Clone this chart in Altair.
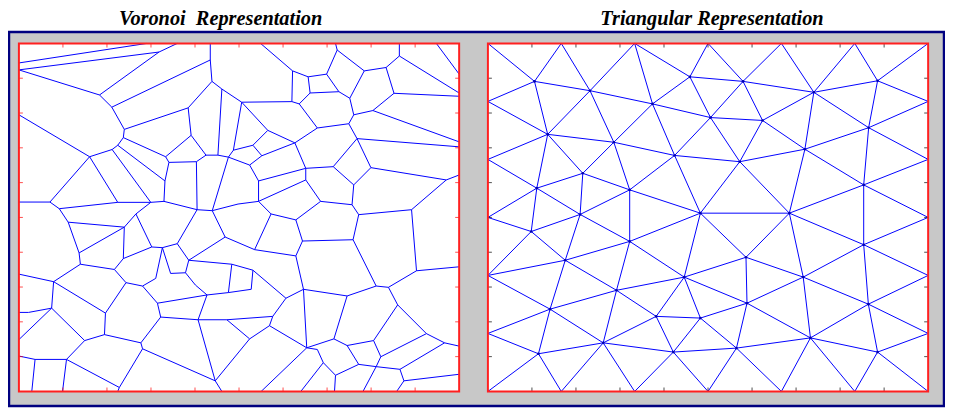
import altair as alt
import pandas as pd

# Panel coordinate space (both panels): x 0..444 left->right, y 0..351 top->bottom
PW, PH = 444, 351

x_ticks = [44.4, 88.8, 133.2, 177.6, 222.0, 266.4, 310.8, 355.2, 399.6]
y_ticks = [35.1, 70.2, 105.3, 140.4, 175.5, 210.6, 245.7, 280.8, 315.9]

titles = ["Voronoi\u00a0 Representation", "Triangular Representation"]

# ---------------- Triangular representation ----------------
tri_nodes = {
    "B0": (0, 0), "B1": (74, 0), "B2": (148, 0), "B3": (222, 0), "B4": (296, 0), "B5": (370, 0), "B6": (444, 0),
    "L1": (0, 58.5), "L2": (0, 117), "L3": (0, 175.5), "L4": (0, 234), "L5": (0, 292.5), "BL": (0, 351),
    "R1": (444, 58.5), "R2": (444, 117), "R3": (444, 175.5), "R4": (444, 234), "R5": (444, 292.5), "BR": (444, 351),
    "D1": (74, 351), "D2": (148, 351), "D3": (222, 351), "D4": (296, 351), "D5": (370, 351),
    "N1": (47, 38.3), "N2": (103, 47.7), "N3": (203.7, 33.7), "N4": (166, 61), "N5": (224.5, 74.8),
    "N6": (60.3, 91.7), "N7": (127, 99.7), "N8": (188.3, 113), "N9": (95.7, 131), "N10": (49.3, 146),
    "N11": (143, 147.7), "N12": (93, 172.5), "N13": (214.3, 171.2), "N14": (257.3, 38.3), "N15": (328.7, 49.3),
    "N16": (393, 37.7), "N17": (277, 77.7), "N18": (384, 85), "N19": (319.7, 106.7), "N20": (254, 119.3),
    "N21": (379, 142.7), "N22": (304, 171.2), "N23": (43.7, 189.7), "N24": (143, 199.7), "N25": (78, 218.7),
    "N26": (198, 235.7), "N27": (129.7, 249), "N28": (62.7, 268), "N29": (169.7, 275.3), "N30": (214.3, 277),
    "N31": (116.3, 302), "N32": (51, 313), "N33": (187, 311.3), "N34": (379, 203), "N35": (260.3, 215.7),
    "N36": (318, 235.7), "N37": (261.3, 262), "N38": (383.7, 263), "N39": (325.3, 297), "N40": (250.7, 307.3),
    "N41": (393, 311.3),
}

tri_edges = [
    ("B0", "N1"), ("B1", "N1"), ("B1", "N2"), ("B2", "N2"), ("B2", "N4"), ("B2", "N3"), ("B3", "N3"), ("B3", "N14"),
    ("N1", "N2"), ("N1", "L1"), ("N1", "N6"), ("N2", "N6"), ("N2", "N4"), ("N2", "N7"),
    ("N4", "N3"), ("N4", "N5"), ("N4", "N7"), ("N4", "N8"), ("N3", "N5"), ("N3", "N14"),
    ("L1", "N6"), ("N6", "L2"), ("N6", "N7"), ("N6", "N9"), ("N6", "N10"),
    ("N7", "N9"), ("N7", "N11"), ("N7", "N8"), ("N8", "N11"), ("N8", "N13"), ("N8", "N5"), ("N8", "N20"),
    ("L2", "N10"), ("N9", "N10"), ("N9", "N11"), ("N9", "N12"), ("N10", "N12"), ("N10", "L3"), ("N10", "N23"),
    ("N11", "N12"), ("N11", "N24"), ("N11", "N13"), ("N13", "N20"), ("N13", "N22"), ("N13", "N24"),
    ("N13", "N26"), ("N13", "N35"),
    ("L3", "N23"), ("N12", "N23"), ("N12", "N24"), ("N12", "N25"), ("N23", "N25"), ("N23", "L4"),
    ("N24", "N25"), ("N24", "N27"), ("N24", "N26"), ("N25", "L4"), ("N25", "N27"), ("N25", "N28"), ("L4", "N28"),
    ("N26", "N27"), ("N26", "N29"), ("N26", "N30"), ("N26", "N35"), ("N26", "N37"),
    ("N27", "N28"), ("N27", "N29"), ("N27", "N31"), ("N28", "N31"), ("N28", "L5"), ("N28", "N32"),
    ("N29", "N30"), ("N29", "N31"), ("N29", "N33"), ("N30", "N33"), ("N30", "N37"), ("N30", "N40"),
    ("N31", "N32"), ("N31", "N33"), ("N31", "D1"), ("N31", "D2"), ("N32", "L5"), ("N32", "BL"), ("N32", "D1"),
    ("N33", "D2"), ("N33", "D3"), ("N33", "N40"),
    ("B4", "N14"), ("B4", "N15"), ("B5", "N15"), ("B5", "N16"), ("B6", "N16"),
    ("N14", "N15"), ("N14", "N17"), ("N14", "N5"), ("N15", "N16"), ("N15", "N17"), ("N15", "N18"), ("N15", "N19"),
    ("N16", "R1"), ("N16", "N18"), ("N17", "N19"), ("N17", "N20"), ("N17", "N5"), ("N5", "N20"),
    ("N18", "R1"), ("N18", "R2"), ("N18", "N19"), ("N18", "N21"), ("N19", "N20"), ("N19", "N21"), ("N19", "N22"),
    ("N20", "N22"), ("N21", "R2"), ("N21", "R3"), ("N21", "N22"), ("N21", "N34"),
    ("N22", "N35"), ("N22", "N36"), ("N22", "N34"), ("R3", "N34"), ("N34", "R4"), ("N34", "N36"), ("N34", "N38"),
    ("N35", "N36"), ("N35", "N37"), ("N36", "N37"), ("N36", "N38"), ("N36", "N39"), ("N37", "N39"), ("N37", "N40"),
    ("N38", "R4"), ("N38", "R5"), ("N38", "N39"), ("N38", "N41"), ("N39", "N40"), ("N39", "N41"), ("N39", "D4"),
    ("N39", "D5"), ("N40", "D3"), ("N40", "D4"), ("N41", "R5"), ("N41", "D5"), ("N41", "BR"),
]

# ---------------- Voronoi representation ----------------
vor_vertices = {
    "A": (0, 19.7), "C": (129, 0), "B": (0, 26.7), "D": (141.3, 8.7), "E": (159.7, 0), "F": (81.3, 52),
    "G": (0, 72), "H": (93.7, 64.3), "I": (193, 0), "J": (193, 16.7), "K": (194.7, 38.3), "L": (106.3, 86.7),
    "M": (105.3, 95), "N": (170.7, 65), "O": (204.7, 46), "P": (224.7, 59.3), "Q": (173.7, 92.7),
    "R": (71.3, 114.3), "S": (94, 107), "S2": (99.7, 102.7), "T": (148, 114.3), "U": (151.3, 120),
    "V": (179, 119.3), "W": (188.7, 112.7), "X": (200.7, 112.7), "Y": (211.3, 114.7), "Z": (216.3, 107.7),
    "AA": (0, 160), "AB": (31.3, 160), "AC": (40.7, 166.7), "AD": (99.7, 160.3), "AE": (133, 160.3),
    "AF": (146.3, 159.3), "AG": (147.3, 138.7), "AH": (179.7, 167.7), "AJ": (195, 168.7),
    "a1": (49.7, 180.3), "a2": (106.3, 185.3), "a3": (60.7, 211.3), "a4": (62, 222.7), "a5": (96.3, 228),
    "a6": (105.3, 217), "a7": (35, 240.3), "a8": (134, 205.3), "a9": (144.7, 206), "a10": (159.7, 202),
    "a12": (138, 237), "a13": (153, 232), "a14": (168, 231.3), "a15": (171.3, 218.7), "a16": (208, 195.3),
    "a18": (214.7, 222.7), "a19": (178, 243.7), "a20": (189.7, 253.7), "a21": (211.3, 251.3),
    "a22": (108, 241.3), "a23": (124.7, 244.7), "a24": (139.7, 262), "a25": (143, 276), "a26": (180.7, 278.7),
    "a27": (209.7, 278.7), "a28": (87.3, 272), "a29": (86.3, 293.7), "a30": (123, 302), "a31": (33, 267),
    "a32": (66.3, 299.7), "a33": (48, 318.7), "a34": (16.3, 318.7), "a35": (0, 315.3), "a36": (13, 351),
    "a37": (44, 351), "a38": (101.3, 347), "a39": (99.7, 351), "a40": (124.7, 308), "a41": (198, 340.3),
    "a42": (204.7, 351), "a43": (0, 232.7), "a44": (9.7, 271.3), "a44L": (0, 271.3), "a45": (0, 298.7),
    "a50": (118, 172),
    "b1": (243.7, 0), "b2": (276, 27.7), "b3": (275.3, 58.7), "b4": (291.7, 33.7), "b5": (310.3, 31),
    "b6": (293.7, 50), "b7": (321, 6.7), "b7t": (319.3, 0), "b8": (348.3, 27.7), "b9": (322.7, 48.7),
    "b10": (282.7, 61), "b11": (333.7, 55.3), "b12": (370.3, 24.3), "b13": (383.7, 12.7), "b13t": (383.7, 0),
    "b14t": (421, 0), "rA": (444, 31), "rB": (444, 50), "rC": (444, 53.3), "b15": (378.3, 50.3),
    "b16": (337.7, 72), "b17": (357, 67.7), "rD": (444, 99.3), "b18": (332.7, 81), "b19": (301, 85.3),
    "b20": (278.3, 100.3), "b21": (341, 96), "rE": (444, 104.3), "b22": (355, 125.3), "b23": (431, 137.7),
    "rF": (444, 132.7), "b24": (337.7, 142.7), "b25": (317, 124.3), "b26": (289.3, 126), "b26b": (289.3, 137.7),
    "b27": (304.3, 159.3), "b28": (251, 87.7), "b29": (236, 102.7), "b30": (245, 113.3), "b31": (232.7, 122.7),
    "b32": (241.7, 138.7), "b33": (241.7, 159.3), "b34": (221, 162), "b35": (336, 162.7), "b36": (396, 167.7),
    "c0": (342.7, 172.7), "c1": (254.3, 172), "c2": (279.3, 178), "c3": (286, 199.3), "c4": (337, 198),
    "c5": (401, 229.3), "rG": (444, 225.3), "c6": (360.3, 244.7), "c7": (372.7, 246), "c8": (279.3, 214.3),
    "c9": (237.7, 208), "c10": (287, 248), "c11": (331, 254.7), "c12": (269.3, 257), "c13": (317.7, 298),
    "c14": (290.3, 307), "c15": (331, 304.7), "c16": (357.7, 299.7), "c17": (382, 263.7), "c18": (411, 292.7),
    "c19": (429.3, 302), "rH": (444, 305.3), "c20": (365, 316), "c21": (360.3, 326), "c22": (342.7, 323.7),
    "c23": (384.3, 328.7), "c24": (388.3, 340.3), "rI": (444, 333.7), "c25": (381, 351), "c26": (347, 351),
    "c27": (301, 308.7), "c28": (307, 322), "c29": (319.3, 334.7), "c30": (318.3, 351), "c31": (284.3, 351),
    "c32": (244.3, 351), "c33": (236, 228.7), "c34": (234.3, 248), "c35": (256, 275.3), "c36": (252.7, 284.7),
    "c37": (232.7, 298),
}

vor_edges = [
    ("A", "C"), ("B", "D"), ("D", "E"), ("D", "F"), ("B", "F"), ("F", "H"), ("H", "L"), ("H", "J"), ("I", "J"),
    ("J", "K"), ("K", "N"), ("K", "O"), ("N", "L"), ("N", "Q"), ("O", "P"), ("O", "X"), ("L", "M"), ("M", "S2"),
    ("S2", "S"), ("S", "R"), ("S2", "AG"), ("M", "T"), ("G", "R"), ("Q", "T"), ("Q", "W"), ("T", "U"), ("U", "V"),
    ("V", "W"), ("W", "X"), ("X", "Y"), ("Y", "Z"), ("Z", "P"), ("U", "AG"), ("AG", "AF"), ("V", "AH"),
    ("R", "AB"), ("AA", "AB"), ("AB", "AC"), ("AC", "AD"), ("AD", "AE"), ("AE", "AF"), ("AF", "AH"),
    ("AH", "AJ"), ("Y", "AJ"), ("R", "AD"), ("S", "AE"),
    ("AC", "a1"), ("a1", "a2"), ("a2", "a50"), ("a50", "a8"), ("a50", "AE"), ("a2", "a6"), ("a1", "a3"),
    ("a3", "a2"), ("a3", "a4"), ("a4", "a5"), ("a4", "a7"), ("a5", "a6"), ("a6", "a8"), ("a8", "a9"),
    ("a9", "a10"), ("a10", "AH"), ("a9", "a12"), ("a9", "a13"), ("a13", "a14"), ("a12", "a23"), ("a10", "a15"),
    ("a15", "a14"), ("a15", "a16"), ("a16", "AJ"), ("a16", "c9"), ("a15", "a18"), ("a18", "c33"),
    ("a14", "a19"), ("a19", "a20"), ("a20", "a21"), ("a18", "a21"), ("a21", "c34"), ("a22", "a23"),
    ("a5", "a22"), ("a23", "a24"), ("a24", "a20"), ("a24", "a25"), ("a25", "a26"), ("a26", "a20"),
    ("a26", "a27"), ("a27", "c35"), ("a27", "c37"), ("a26", "a41"), ("a25", "a30"), ("a30", "a29"),
    ("a29", "a28"), ("a28", "a22"), ("a28", "a7"), ("a7", "a43"), ("a7", "a31"), ("a31", "a44"),
    ("a44", "a44L"), ("a31", "a45"), ("a31", "a32"), ("a32", "a29"), ("a32", "a33"), ("a33", "a34"),
    ("a34", "a35"), ("a34", "a36"), ("a33", "a37"), ("a33", "a38"), ("a38", "a39"), ("a38", "a40"),
    ("a30", "a40"), ("a40", "a41"), ("a41", "a42"), ("a41", "c37"),
    ("b1", "b2"), ("b2", "b3"), ("b2", "b4"), ("b4", "b5"), ("b4", "b6"), ("b6", "b9"), ("b5", "b7"),
    ("b7", "b7t"), ("b7", "b8"), ("b5", "b9"), ("b9", "b11"), ("b8", "b11"), ("b8", "b12"), ("b12", "b13"),
    ("b13", "b13t"), ("b13", "rB"), ("b14t", "rA"), ("b12", "b15"), ("b15", "rC"), ("b15", "b17"),
    ("b11", "b16"), ("b16", "b17"), ("b17", "rD"), ("b16", "b18"), ("b18", "b19"), ("b19", "b10"),
    ("b10", "b3"), ("b10", "b6"), ("b19", "b20"), ("b18", "b21"), ("b21", "rE"), ("b21", "b22"),
    ("b22", "b23"), ("b23", "rF"), ("b23", "b36"), ("b22", "b24"), ("b21", "b25"), ("b25", "b26"),
    ("b25", "b24"), ("b24", "b35"), ("b26", "b20"), ("b26", "b26b"), ("b26b", "b27"), ("P", "b3"),
    ("P", "b28"), ("Z", "b29"), ("b29", "b28"), ("b28", "b20"), ("b29", "b30"), ("b30", "b20"), ("Y", "b31"),
    ("b31", "b30"), ("b31", "b32"), ("b32", "b26"), ("b32", "b33"), ("b33", "b26b"), ("b33", "b34"),
    ("b34", "AJ"), ("b33", "c1"), ("b27", "c2"), ("b27", "b35"), ("b35", "c0"), ("b36", "c0"), ("b36", "c5"),
    ("c1", "c2"), ("c2", "c3"), ("c3", "c4"), ("c4", "c0"), ("c4", "c6"), ("c6", "c7"), ("c7", "c5"),
    ("c5", "rG"), ("c3", "c8"), ("c8", "c9"), ("c9", "c1"), ("c8", "c10"), ("c10", "c11"), ("c11", "c6"),
    ("c10", "c12"), ("c12", "c33"), ("c33", "c34"), ("c12", "c35"), ("c35", "c36"), ("c36", "c37"),
    ("c36", "c14"), ("c10", "c14"), ("c14", "c13"), ("c14", "c27"), ("c14", "c32"), ("c13", "c11"),
    ("c13", "c15"), ("c15", "c16"), ("c16", "c17"), ("c17", "c7"), ("c17", "c18"), ("c18", "c19"),
    ("c19", "rH"), ("c18", "c20"), ("c16", "c20"), ("c20", "c21"), ("c15", "c22"), ("c22", "c21"),
    ("c21", "c23"), ("c23", "c19"), ("c23", "c24"), ("c24", "rI"), ("c24", "c25"), ("c21", "c26"),
    ("c27", "c28"), ("c28", "c29"), ("c29", "c30"), ("c29", "c22"), ("c28", "c31"),
]

# ---------------- build tables ----------------
def seg_table(nodes, edges):
    return pd.DataFrame(
        [{"x": nodes[a][0], "y": nodes[a][1], "x2": nodes[b][0], "y2": nodes[b][1]} for a, b in edges]
    )


tri_seg = seg_table(tri_nodes, tri_edges)
vor_seg = seg_table(vor_vertices, vor_edges)
tri_pts = pd.DataFrame([{"x": v[0], "y": v[1]} for k, v in tri_nodes.items() if k.startswith("N")])

one = pd.DataFrame({"a": [0]})
xt = pd.DataFrame({"t": x_ticks})
yt = pd.DataFrame({"t": y_ticks})


def panel(seg, pts, tick_color, x_range):
    xs = alt.Scale(domain=[0, PW], range=x_range, nice=False, zero=False)
    ys = alt.Scale(domain=[0, PH], range=[34, 385], nice=False, zero=False)
    bg = alt.Chart(one).mark_rect(fill="white", strokeWidth=0).encode(
        x=alt.X(datum=0, scale=xs, axis=None), x2=alt.datum(PW),
        y=alt.Y(datum=0, scale=ys, axis=None), y2=alt.datum(PH),
    )
    layers = [bg]
    layers.append(
        alt.Chart(seg).mark_rule(color="#0000ff", strokeWidth=1).encode(
            x=alt.X("x:Q", scale=xs, axis=None), y=alt.Y("y:Q", scale=ys, axis=None),
            x2="x2:Q", y2="y2:Q",
        )
    )
    if pts is not None:
        layers.append(
            alt.Chart(pts).mark_circle(color="#0000b0", size=7, opacity=1).encode(
                x=alt.X("x:Q", scale=xs, axis=None), y=alt.Y("y:Q", scale=ys, axis=None)
            )
        )
    tk = dict(color=tick_color, thickness=1, size=4)
    layers += [
        alt.Chart(xt).mark_tick(orient="vertical", yOffset=2, **tk).encode(
            x=alt.X("t:Q", scale=xs, axis=None), y=alt.Y(datum=0, scale=ys, axis=None)),
        alt.Chart(xt).mark_tick(orient="vertical", yOffset=-2, **tk).encode(
            x=alt.X("t:Q", scale=xs, axis=None), y=alt.Y(datum=PH, scale=ys, axis=None)),
        alt.Chart(yt).mark_tick(orient="horizontal", xOffset=2, **tk).encode(
            y=alt.Y("t:Q", scale=ys, axis=None), x=alt.X(datum=0, scale=xs, axis=None)),
        alt.Chart(yt).mark_tick(orient="horizontal", xOffset=-2, **tk).encode(
            y=alt.Y("t:Q", scale=ys, axis=None), x=alt.X(datum=PW, scale=xs, axis=None)),
    ]
    border = alt.Chart(one).mark_rect(fillOpacity=0, stroke="#ff2020", strokeWidth=2).encode(
        x=alt.X(datum=0, scale=xs, axis=None), x2=alt.datum(PW),
        y=alt.Y(datum=0, scale=ys, axis=None), y2=alt.datum(PH),
    )
    layers.append(border)
    return alt.layer(*layers)


frame = alt.Chart(one).mark_rect(fill="#c8c8c8", stroke="#000080", strokeWidth=2.5).encode(
    x=alt.value(1), x2=alt.value(944), y=alt.value(22.5), y2=alt.value(399.8)
)
title_font = dict(font="Liberation Serif", fontSize=20.5, fontWeight="bold", fontStyle="italic",
                  color="black", align="center", baseline="alphabetic")
t1 = alt.Chart(one).mark_text(text=titles[0], **title_font).encode(x=alt.value(214.5), y=alt.value(15.5))
t2 = alt.Chart(one).mark_text(text=titles[1], **title_font).encode(x=alt.value(710), y=alt.value(15.5))

left = panel(vor_seg, None, "#ff0000", [11, 455])
right = panel(tri_seg, tri_pts, "#000000", [484, 928])

chart = (
    alt.layer(frame, t1, t2, left, right)
    .resolve_scale(x="independent", y="independent")
    .properties(width=945, height=401, padding=0, autosize="none", background="white")
    .configure_view(stroke=None)
)

chart.save("out.html", embed_options={"renderer": "svg", "actions": False})
